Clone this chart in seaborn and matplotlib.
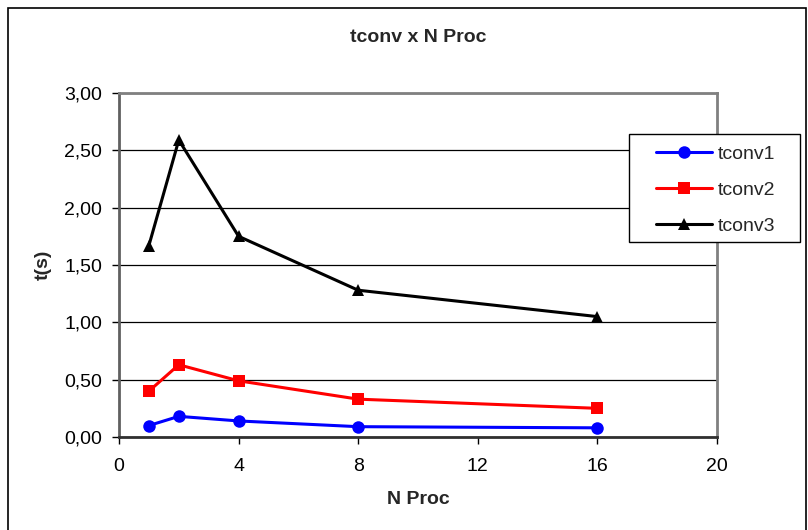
import matplotlib
matplotlib.use("Agg")
import matplotlib.pyplot as plt
import seaborn as sns
import pandas as pd
from matplotlib.ticker import FuncFormatter, FixedLocator
from matplotlib.patches import Rectangle

# ---- data ----
nproc = [1, 2, 4, 8, 16]
tconv1 = [0.10, 0.18, 0.14, 0.09, 0.08]
tconv2 = [0.40, 0.63, 0.49, 0.33, 0.25]
tconv3 = [1.67, 2.59, 1.75, 1.28, 1.05]
series_names = ["tconv1", "tconv2", "tconv3"]
x_ticks = [0, 4, 8, 12, 16, 20]
y_ticks = [0, 0.5, 1.0, 1.5, 2.0, 2.5, 3.0]

rows = []
for name, vals in zip(series_names, [tconv1, tconv2, tconv3]):
    for x, v in zip(nproc, vals):
        rows.append({"N Proc": x, "t(s)": v, "serie": name})
df = pd.DataFrame(rows)

sns.set_theme(style="white")
plt.rcParams["font.family"] = ["Liberation Sans", "DejaVu Sans"]

W, H = 808, 530
fig = plt.figure(figsize=(W / 100, H / 100), dpi=100)
ax = fig.add_axes([119 / W, 1 - 437 / H, (717 - 119) / W, (437 - 93) / H])

# figure border
fig.patches.append(Rectangle((8 / W, -0.05), (806 - 8) / W, 1.05 - 8 / H,
                             transform=fig.transFigure, fill=False,
                             edgecolor="black", linewidth=1.2, zorder=0))

ax.yaxis.grid(True, color="black", linewidth=0.9)
ax.set_axisbelow(True)

sns.lineplot(data=df, x="N Proc", y="t(s)", hue="serie", style="serie",
             palette={"tconv1": "#0000FF", "tconv2": "#FF0000", "tconv3": "#000000"},
             markers={"tconv1": "o", "tconv2": "s", "tconv3": "^"},
             dashes=False, linewidth=2.2, markersize=9, markeredgewidth=0,
             ax=ax, legend=True)

ax.set_xlim(0, 20)
ax.set_ylim(0, 3)
ax.xaxis.set_major_locator(FixedLocator(x_ticks))
ax.yaxis.set_major_locator(FixedLocator(y_ticks))
ax.yaxis.set_major_formatter(FuncFormatter(lambda v, p: f"{v:.2f}".replace(".", ",")))
ax.tick_params(axis="both", which="major", direction="out", length=5, width=1,
               color="black", labelsize=14, labelcolor="black")
ax.tick_params(axis="x", bottom=True, pad=10)
ax.tick_params(axis="y", left=True, pad=7)

for side in ["top", "right"]:
    ax.spines[side].set_color("#808080")
    ax.spines[side].set_linewidth(2)
ax.spines["left"].set_color("#606060")
ax.spines["left"].set_linewidth(2)
ax.spines["bottom"].set_color("#303030")
ax.spines["bottom"].set_linewidth(2)

ax.set_xlabel("N Proc", fontsize=14, fontweight="bold", labelpad=12)
ax.set_ylabel("t(s)", fontsize=14, fontweight="bold", labelpad=9)
fig.text(418 / W, 1 - 37 / H, "tconv x N Proc", ha="center", va="center",
         fontsize=14, fontweight="bold")

# legend: content without frame, frame drawn as a box
leg = ax.legend(loc="upper left",
                bbox_to_anchor=(656 / W, 1 - 145 / H),
                bbox_transform=fig.transFigure,
                frameon=False, fontsize=14, handlelength=2.9,
                labelspacing=0.95, borderpad=0, handletextpad=0.25,
                borderaxespad=0)
leg.set_title(None)
leg.set_zorder(6)
box = Rectangle((629 / W, 1 - 242 / H), (800 - 629) / W, (242 - 134) / H,
                transform=fig.transFigure, facecolor="white",
                edgecolor="black", linewidth=1.0, zorder=5, clip_on=False)
ax.add_patch(box)

fig.savefig("out.png", dpi=100)
